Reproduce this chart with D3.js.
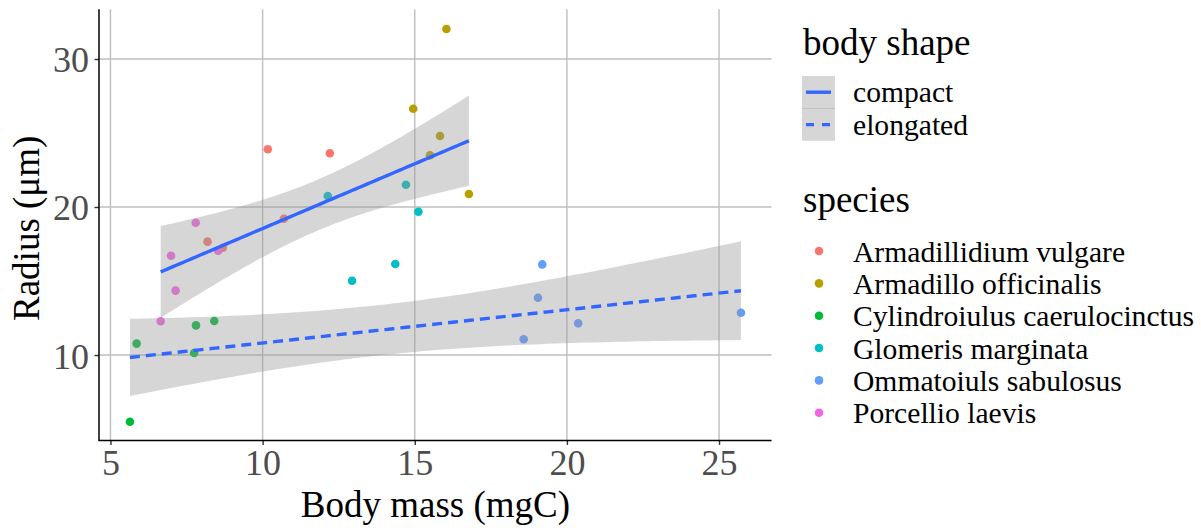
<!DOCTYPE html>
<html>
<head>
<meta charset="utf-8">
<script src="https://cdn.jsdelivr.net/npm/d3@7"></script>
<style>
  html, body { margin: 0; padding: 0; background: #ffffff; }
  svg { display: block; }
  text { font-family: "Liberation Serif", "DejaVu Serif", serif; }
</style>
</head>
<body>
<svg id="chart" width="1201" height="528"></svg>
<script>
// ---------------- DATA ----------------
const speciesNames = [
  "Armadillidium vulgare",
  "Armadillo officinalis",
  "Cylindroiulus caerulocinctus",
  "Glomeris marginata",
  "Ommatoiuls sabulosus",
  "Porcellio laevis"
];
const speciesColors = ["#F8766D", "#B79F00", "#00BA38", "#00BFC4", "#619CFF", "#F564E3"];
const speciesShape = ["compact", "compact", "elongated", "compact", "elongated", "compact"];
const shapeNames = ["compact", "elongated"];

// one entry per observation
const pointSpecies = [0,0,0,0,0, 1,1,1,1,1, 2,2,2,2,2, 3,3,3,3,3, 4,4,4,4,4, 5,5,5,5,5];
const bodyMass = [
  10.17, 12.21, 10.70, 8.19, 8.69,
  14.95, 16.04, 15.83, 15.50, 16.78,
  5.86, 7.81, 8.41, 7.75, 5.64,
  12.14, 14.71, 15.12, 12.94, 14.36,
  19.19, 19.05, 18.58, 20.37, 25.72,
  7.80, 6.99, 8.54, 7.14, 6.65
];
const radius = [
  23.90, 23.63, 19.21, 17.66, 17.25,
  26.64, 32.03, 24.80, 23.50, 20.88,
  10.77, 12.00, 12.30, 10.14, 5.49,
  20.74, 21.50, 19.68, 15.02, 16.15,
  16.12, 13.87, 11.06, 12.14, 12.86,
  18.94, 16.71, 17.05, 14.35, 12.28
];
const xTicks = [5, 10, 15, 20, 25];
const yTicks = [10, 20, 30];
const xTitle = "Body mass (mgC)";
const yTitle = "Radius (\u03BCm)";

// ---------------- STATS (lm + 95% CI, like geom_smooth(method = "lm")) ----------------
function lgamma(z) {
  const g = 7, c = [0.99999999999980993, 676.5203681218851, -1259.1392167224028,
    771.32342877765313, -176.61502916214059, 12.507343278686905,
    -0.13857109526572012, 9.9843695780195716e-6, 1.5056327351493116e-7];
  if (z < 0.5) return Math.log(Math.PI / Math.sin(Math.PI * z)) - lgamma(1 - z);
  z -= 1;
  let x = c[0];
  for (let i = 1; i < g + 2; i++) x += c[i] / (z + i);
  const t = z + g + 0.5;
  return 0.5 * Math.log(2 * Math.PI) + (z + 0.5) * Math.log(t) - t + Math.log(x);
}
function tCdfPos(t, nu) { // P(0 < T < t)
  const k = Math.exp(lgamma((nu + 1) / 2) - lgamma(nu / 2)) / Math.sqrt(nu * Math.PI);
  const n = 400, h = t / n;
  let s = 0;
  for (let i = 0; i <= n; i++) {
    const x = i * h;
    const f = Math.pow(1 + x * x / nu, -(nu + 1) / 2);
    s += (i === 0 || i === n) ? f : (i % 2 ? 4 * f : 2 * f);
  }
  return k * s * h / 3;
}
function tQuantile975(nu) {
  let lo = 0, hi = 20;
  for (let i = 0; i < 60; i++) {
    const mid = (lo + hi) / 2;
    if (tCdfPos(mid, nu) < 0.475) lo = mid; else hi = mid;
  }
  return (lo + hi) / 2;
}
function lmFit(xs, ys) {
  const n = xs.length;
  const mx = d3.mean(xs), my = d3.mean(ys);
  let sxx = 0, sxy = 0;
  xs.forEach((x, i) => { sxx += (x - mx) ** 2; sxy += (x - mx) * (ys[i] - my); });
  const b = sxy / sxx, a = my - b * mx;
  let sse = 0;
  xs.forEach((x, i) => { sse += (ys[i] - (a + b * x)) ** 2; });
  const s = Math.sqrt(sse / (n - 2));
  const tq = tQuantile975(n - 2);
  const [x0, x1] = d3.extent(xs);
  const pts = d3.range(80).map(i => {
    const x = x0 + (x1 - x0) * i / 79;
    const fit = a + b * x;
    const se = s * Math.sqrt(1 / n + (x - mx) ** 2 / sxx);
    return { x, fit, lo: fit - tq * se, hi: fit + tq * se };
  });
  return pts;
}

const fits = shapeNames.map(shape => {
  const idx = d3.range(bodyMass.length).filter(i => speciesShape[pointSpecies[i]] === shape);
  return { shape, pts: lmFit(idx.map(i => bodyMass[i]), idx.map(i => radius[i])) };
});

// ---------------- LAYOUT ----------------
const svg = d3.select("#chart");
const panel = { left: 99.4, right: 771.5, top: 9.3, bottom: 441.4 };

function expand(ext) { const r = ext[1] - ext[0]; return [ext[0] - 0.05 * r, ext[1] + 0.05 * r]; }
const allY = radius.concat(...fits.map(f => f.pts.flatMap(p => [p.lo, p.hi])));
const x = d3.scaleLinear().domain(expand(d3.extent(bodyMass))).range([panel.left, panel.right]);
const y = d3.scaleLinear().domain(expand(d3.extent(allY))).range([panel.bottom, panel.top]);

const gridColor = "#bebebe";
// grid
const grid = svg.append("g");
grid.selectAll("line.v").data(xTicks).join("line")
  .attr("x1", d => x(d)).attr("x2", d => x(d))
  .attr("y1", panel.top).attr("y2", panel.bottom)
  .attr("stroke", gridColor).attr("stroke-width", 1.4);
grid.selectAll("line.h").data(yTicks).join("line")
  .attr("y1", d => y(d)).attr("y2", d => y(d))
  .attr("x1", panel.left).attr("x2", panel.right)
  .attr("stroke", gridColor).attr("stroke-width", 1.4);

// points
svg.append("g").selectAll("circle").data(d3.range(bodyMass.length)).join("circle")
  .attr("cx", i => x(bodyMass[i])).attr("cy", i => y(radius[i]))
  .attr("r", 4.3).attr("fill", i => speciesColors[pointSpecies[i]]);

// ribbons
const area = d3.area().x(d => x(d.x)).y0(d => y(d.lo)).y1(d => y(d.hi));
svg.append("g").selectAll("path").data(fits).join("path")
  .attr("d", f => area(f.pts))
  .attr("fill", "#999999").attr("fill-opacity", 0.4);

// lines
const line = d3.line().x(d => x(d.x)).y(d => y(d.fit));
svg.append("g").selectAll("path").data(fits).join("path")
  .attr("d", f => line(f.pts))
  .attr("fill", "none").attr("stroke", "#3366FF").attr("stroke-width", 3.4)
  .attr("stroke-dasharray", f => f.shape === "elongated" ? "10,6" : null);

// axes
const xAxis = d3.axisBottom(x).tickValues(xTicks).tickSize(4.5).tickPadding(6).tickFormat(d3.format("d"));
const gx = svg.append("g").attr("transform", `translate(0,${panel.bottom - 1})`).call(xAxis);
gx.select(".domain").remove();
gx.append("line").attr("x1", panel.left - 0.7).attr("x2", panel.right).attr("y1", 0).attr("y2", 0)
  .attr("stroke", "#000").attr("stroke-width", 1.5);
gx.selectAll(".tick line").attr("stroke", "#333").attr("stroke-width", 1.4);
gx.selectAll(".tick text").attr("font-size", 36).attr("fill", "#4d4d4d")
  .attr("font-family", "Liberation Serif").attr("dy", null).attr("y", 35);

const yAxis = d3.axisLeft(y).tickValues(yTicks).tickSize(4.5).tickPadding(6).tickFormat(d3.format("d"));
const gy = svg.append("g").attr("transform", `translate(${panel.left - 0.4},0)`).call(yAxis);
gy.select(".domain").remove();
gy.append("line").attr("x1", 0).attr("x2", 0).attr("y1", panel.top).attr("y2", panel.bottom - 0.3)
  .attr("stroke", "#000").attr("stroke-width", 1.5);
gy.selectAll(".tick line").attr("stroke", "#333").attr("stroke-width", 1.4);
gy.selectAll(".tick text").attr("font-size", 36).attr("fill", "#4d4d4d")
  .attr("font-family", "Liberation Serif").attr("dy", null).attr("y", 13).attr("x", -10);

// axis titles
svg.append("text").attr("x", (panel.left + panel.right) / 2).attr("y", 516.5)
  .attr("text-anchor", "middle").attr("font-size", 37).attr("fill", "#000").text(xTitle);
svg.append("text").attr("transform", `translate(39,${(panel.top + panel.bottom) / 2 + 3}) rotate(-90)`)
  .attr("text-anchor", "middle").attr("font-size", 37).attr("fill", "#000").text(yTitle);

// ---------------- LEGENDS ----------------
const lg = svg.append("g");
lg.append("text").attr("x", 803).attr("y", 55).attr("font-size", 37).attr("fill", "#000").text("body shape");
const keyH = 32.4;
shapeNames.forEach((s, i) => {
  const top = 76 + i * keyH;
  lg.append("rect").attr("x", 802).attr("y", top).attr("width", 33).attr("height", keyH)
    .attr("fill", "#999999").attr("fill-opacity", 0.4);
  lg.append("line").attr("x1", 806).attr("x2", 831).attr("y1", top + keyH / 2).attr("y2", top + keyH / 2)
    .attr("stroke", "#3366FF").attr("stroke-width", 3.4)
    .attr("stroke-dasharray", s === "elongated" ? "8,8" : null);
  lg.append("text").attr("x", 853).attr("y", top + keyH / 2 + 10).attr("font-size", 29.6)
    .attr("fill", "#000").text(s);
});
lg.append("line").attr("x1", 802).attr("x2", 835).attr("y1", 76 + keyH).attr("y2", 76 + keyH)
  .attr("stroke", "#c2c2c2").attr("stroke-width", 1);

lg.append("text").attr("x", 803).attr("y", 211.5).attr("font-size", 37).attr("fill", "#000").text("species");
speciesNames.forEach((s, i) => {
  const cy = 251 + i * 32.35;
  lg.append("circle").attr("cx", 819).attr("cy", cy).attr("r", 4.3).attr("fill", speciesColors[i]);
  lg.append("text").attr("x", 853).attr("y", cy + 10.5).attr("font-size", 29.6)
    .attr("fill", "#000").text(s);
});
</script>
</body>
</html>
